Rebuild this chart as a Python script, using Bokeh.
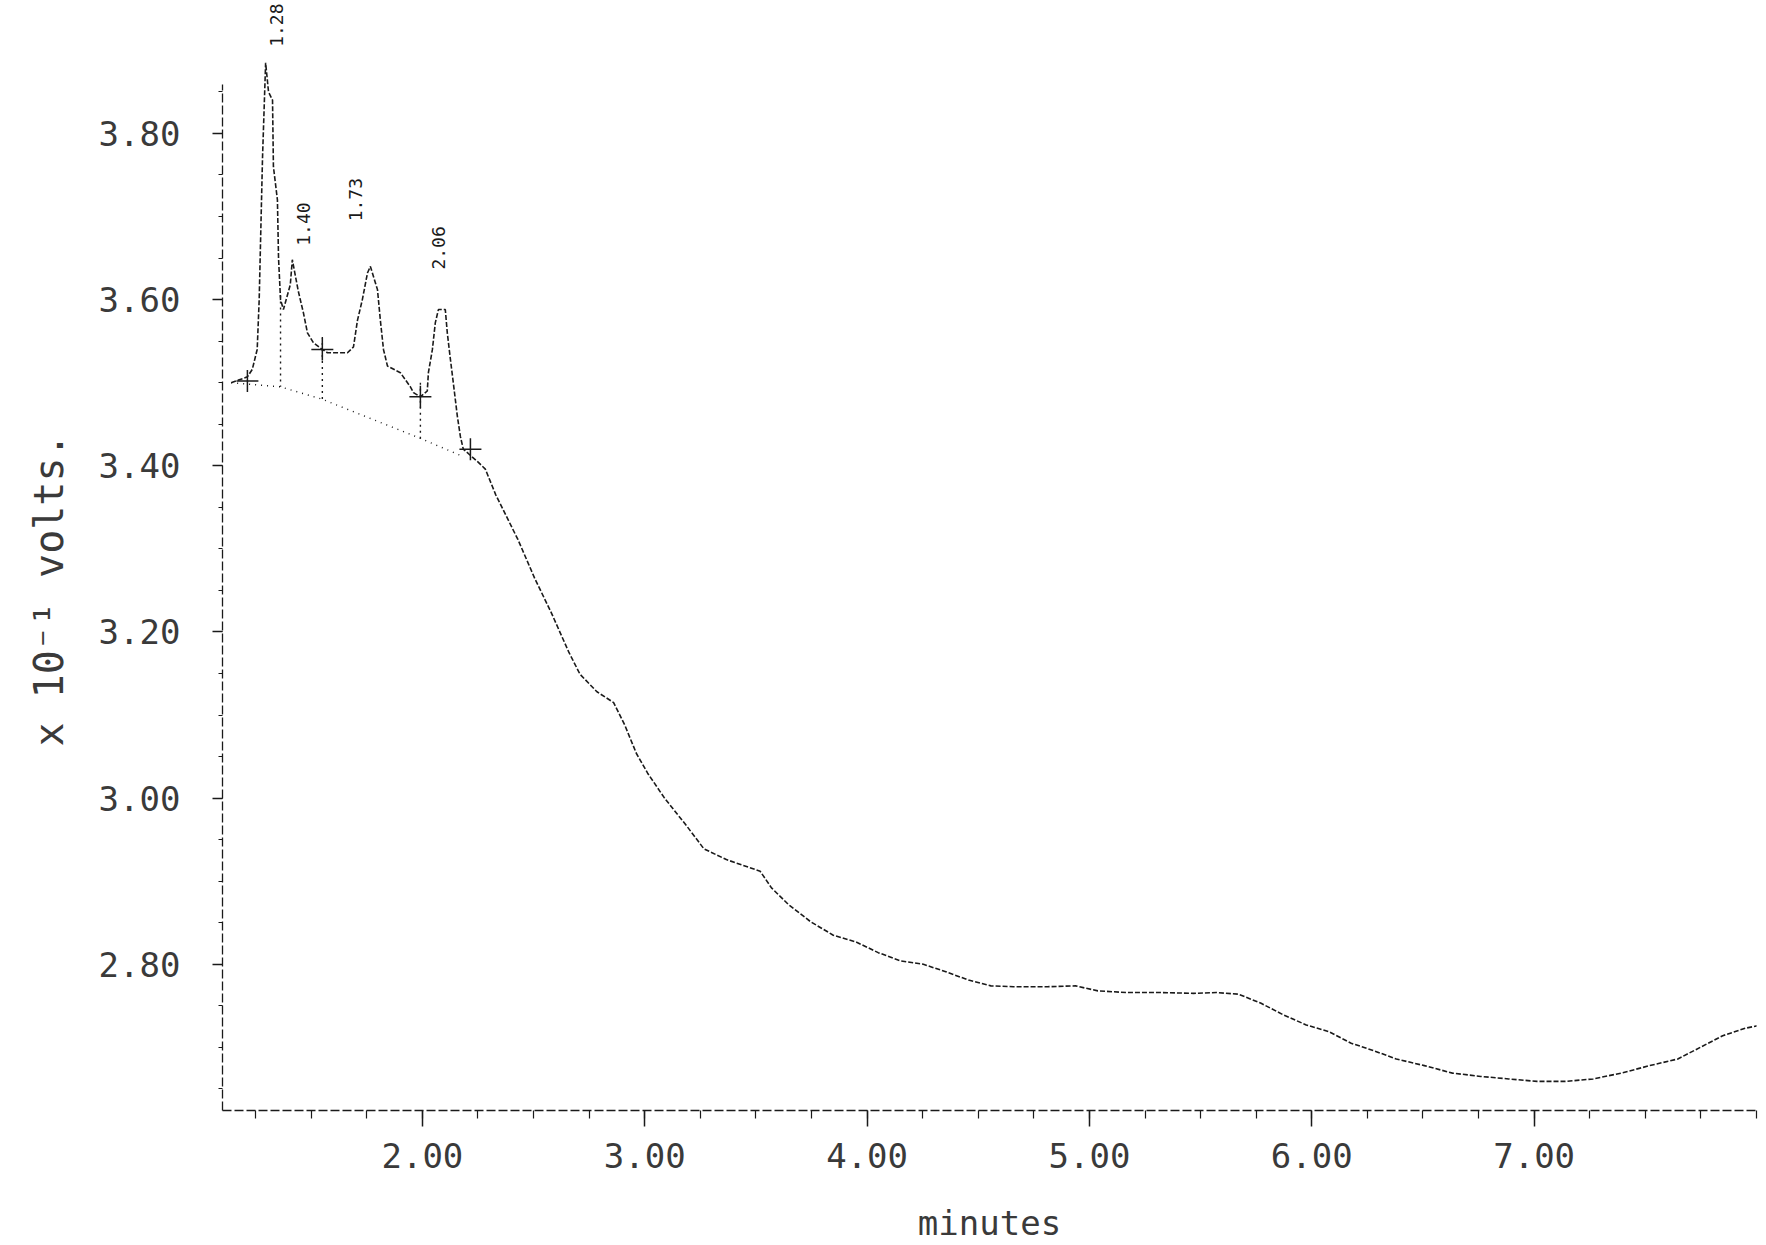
import math
from bokeh.plotting import figure
from bokeh.models import FixedTicker, Range1d, CustomJSTickFormatter, Title
from bokeh.core.properties import value
from bokeh.embed import file_html
from bokeh.resources import INLINE

# ---- data (minutes, x10^-1 volts) ----
time_min = [1.14, 1.213, 1.235, 1.257, 1.266, 1.281, 1.295, 1.308, 1.326, 1.33,
            1.348, 1.353, 1.362, 1.375, 1.406, 1.415, 1.442, 1.465, 1.483, 1.51,
            1.55, 1.573, 1.663, 1.69, 1.708, 1.73, 1.753, 1.766, 1.798, 1.811,
            1.825, 1.843, 1.901, 1.946, 1.96, 1.991, 2.022, 2.027, 2.045, 2.058,
            2.072, 2.103, 2.112, 2.126, 2.139, 2.157, 2.171, 2.184, 2.252, 2.283,
            2.33, 2.43, 2.506, 2.58, 2.658, 2.709, 2.785, 2.86, 2.91, 2.962,
            3.013, 3.089, 3.19, 3.266, 3.367, 3.443, 3.519, 3.57, 3.646, 3.747,
            3.848, 3.949, 4.05, 4.152, 4.253, 4.354, 4.456, 4.557, 4.658, 4.81,
            4.937, 5.038, 5.165, 5.316, 5.468, 5.57, 5.671, 5.772, 5.873, 5.975,
            6.076, 6.177, 6.278, 6.38, 6.506, 6.633, 6.76, 6.886, 7.013, 7.139,
            7.266, 7.392, 7.519, 7.646, 7.747, 7.848, 7.949, 8.025]
signal = [3.500, 3.507, 3.516, 3.540, 3.600, 3.771, 3.885, 3.850, 3.840, 3.760,
          3.720, 3.650, 3.600, 3.588, 3.618, 3.648, 3.610, 3.584, 3.560, 3.548,
          3.540, 3.536, 3.536, 3.543, 3.575, 3.600, 3.632, 3.640, 3.612, 3.575,
          3.540, 3.520, 3.512, 3.495, 3.488, 3.483, 3.490, 3.512, 3.540, 3.572,
          3.588, 3.588, 3.560, 3.528, 3.500, 3.460, 3.435, 3.420, 3.404, 3.396,
          3.365, 3.311, 3.264, 3.223, 3.176, 3.149, 3.128, 3.115, 3.088, 3.054,
          3.030, 3.000, 2.966, 2.939, 2.926, 2.919, 2.912, 2.892, 2.872, 2.851,
          2.835, 2.827, 2.814, 2.804, 2.800, 2.791, 2.781, 2.774, 2.773, 2.773,
          2.774, 2.768, 2.766, 2.766, 2.765, 2.766, 2.764, 2.753, 2.739, 2.727,
          2.719, 2.705, 2.696, 2.686, 2.678, 2.669, 2.665, 2.662, 2.659, 2.659,
          2.662, 2.669, 2.678, 2.686, 2.700, 2.714, 2.723, 2.727]

# integration baseline
base_time = [1.14, 1.362, 1.55, 1.991, 2.184]
base_level = [3.500, 3.495, 3.480, 3.433, 3.411]

# drop lines between peaks
drop_time = [1.362, 1.55, 1.991]
drop_top = [3.605, 3.555, 3.500]
drop_bottom = [3.495, 3.478, 3.432]

# peak start / end markers
mark_time = [1.213, 1.55, 1.991, 2.216]
mark_level = [3.502, 3.540, 3.483, 3.420]

# peak labels (retention times)
peak_labels = ["1.28", "1.40", "1.73", "2.06"]
peak_time = [1.295, 1.415, 1.766, 2.072]
peak_height = [3.885, 3.648, 3.640, 3.588]

x_major = [2, 3, 4, 5, 6, 7]
x_minor = [1.25 + 0.25 * i for i in range(28)]
y_major = [2.8, 3.0, 3.2, 3.4, 3.6, 3.8]
y_minor = [2.65 + 0.05 * i for i in range(25)]

y_title = "x 10\u207b\u00b9 volts."
x_title = "minutes"

FONT = "DejaVu Sans Mono"
INK = "#1a1a1a"
LABEL_INK = "#3a3a3a"

W, H = 1758, 1245
p = figure(width=W, height=H, output_backend="svg", toolbar_location=None,
           x_range=Range1d(1.101, 8.0), y_range=Range1d(2.624, 3.96),
           min_border_left=222, min_border_right=2, min_border_top=0,
           min_border_bottom=132)
p.outline_line_color = None
p.grid.visible = False
p.background_fill_color = "white"

for ax in (p.xaxis[0], p.yaxis[0]):
    ax.axis_line_color = INK
    ax.axis_line_width = 1.3
    ax.axis_line_dash = "9 3"
    ax.major_tick_line_color = INK
    ax.minor_tick_line_color = INK
    ax.major_tick_line_width = 1.5
    ax.minor_tick_line_width = 1.2
    ax.major_label_text_font = FONT
    ax.major_label_text_font_size = "34px"
    ax.major_label_text_color = LABEL_INK
    ax.axis_label_text_font = FONT
    ax.axis_label_text_font_size = "34px"
    ax.axis_label_text_font_style = "normal"
    ax.axis_label_text_color = LABEL_INK

xa = p.xaxis[0]
xa.ticker = FixedTicker(ticks=x_major, minor_ticks=x_minor)
xa.formatter = CustomJSTickFormatter(code="return tick.toFixed(2);")
xa.bounds = (1.101, 8.03)
xa.major_tick_out = 16
xa.major_tick_in = 0
xa.minor_tick_out = 8
xa.minor_tick_in = 0
xa.major_label_standoff = 16
xa.axis_label = x_title
xa.axis_label_standoff = 32

ya = p.yaxis[0]
ya.ticker = FixedTicker(ticks=y_major, minor_ticks=y_minor)
ya.formatter = CustomJSTickFormatter(code="return tick.toFixed(2);")
ya.bounds = (2.624, 3.859)
ya.major_tick_out = 10
ya.major_tick_in = 0
ya.minor_tick_out = 4
ya.minor_tick_in = 0
ya.major_label_standoff = 32
ya.axis_label = None

# y-axis title as a side title, so that it can sit below the frame's centre
p.add_layout(Title(text=y_title, align="left", offset=364, standoff=47,
                   text_font=FONT, text_font_size="40px",
                   text_font_style="normal", text_color=LABEL_INK), "left")

# detector trace
p.line(time_min, signal, line_color=INK, line_width=1.6, line_dash="5 2")

# baseline and drop lines
p.line(base_time, base_level, line_color=INK, line_width=1.4, line_dash="1 5")
p.segment(x0=drop_time, y0=drop_top, x1=drop_time, y1=drop_bottom,
          line_color=INK, line_width=1.4, line_dash="2 4")

# start/end markers
p.scatter(mark_time, mark_level, marker="cross", size=22, line_color=INK,
          line_width=1.5)

# peak labels (rotated, reading upward)
label_dx = [11, 11, -15, 0]
label_dy = [-16, -14, -45, -40]
for lab, t, h, dx, dy in zip(peak_labels, peak_time, peak_height, label_dx, label_dy):
    p.text(x=[t], y=[h], text=[lab], angle=math.pi / 2, x_offset=dx, y_offset=dy,
           text_font=value(FONT), text_font_size="18px", text_align="left",
           text_baseline="middle", text_color=INK)

open("out.html", "w").write(file_html(p, INLINE))
